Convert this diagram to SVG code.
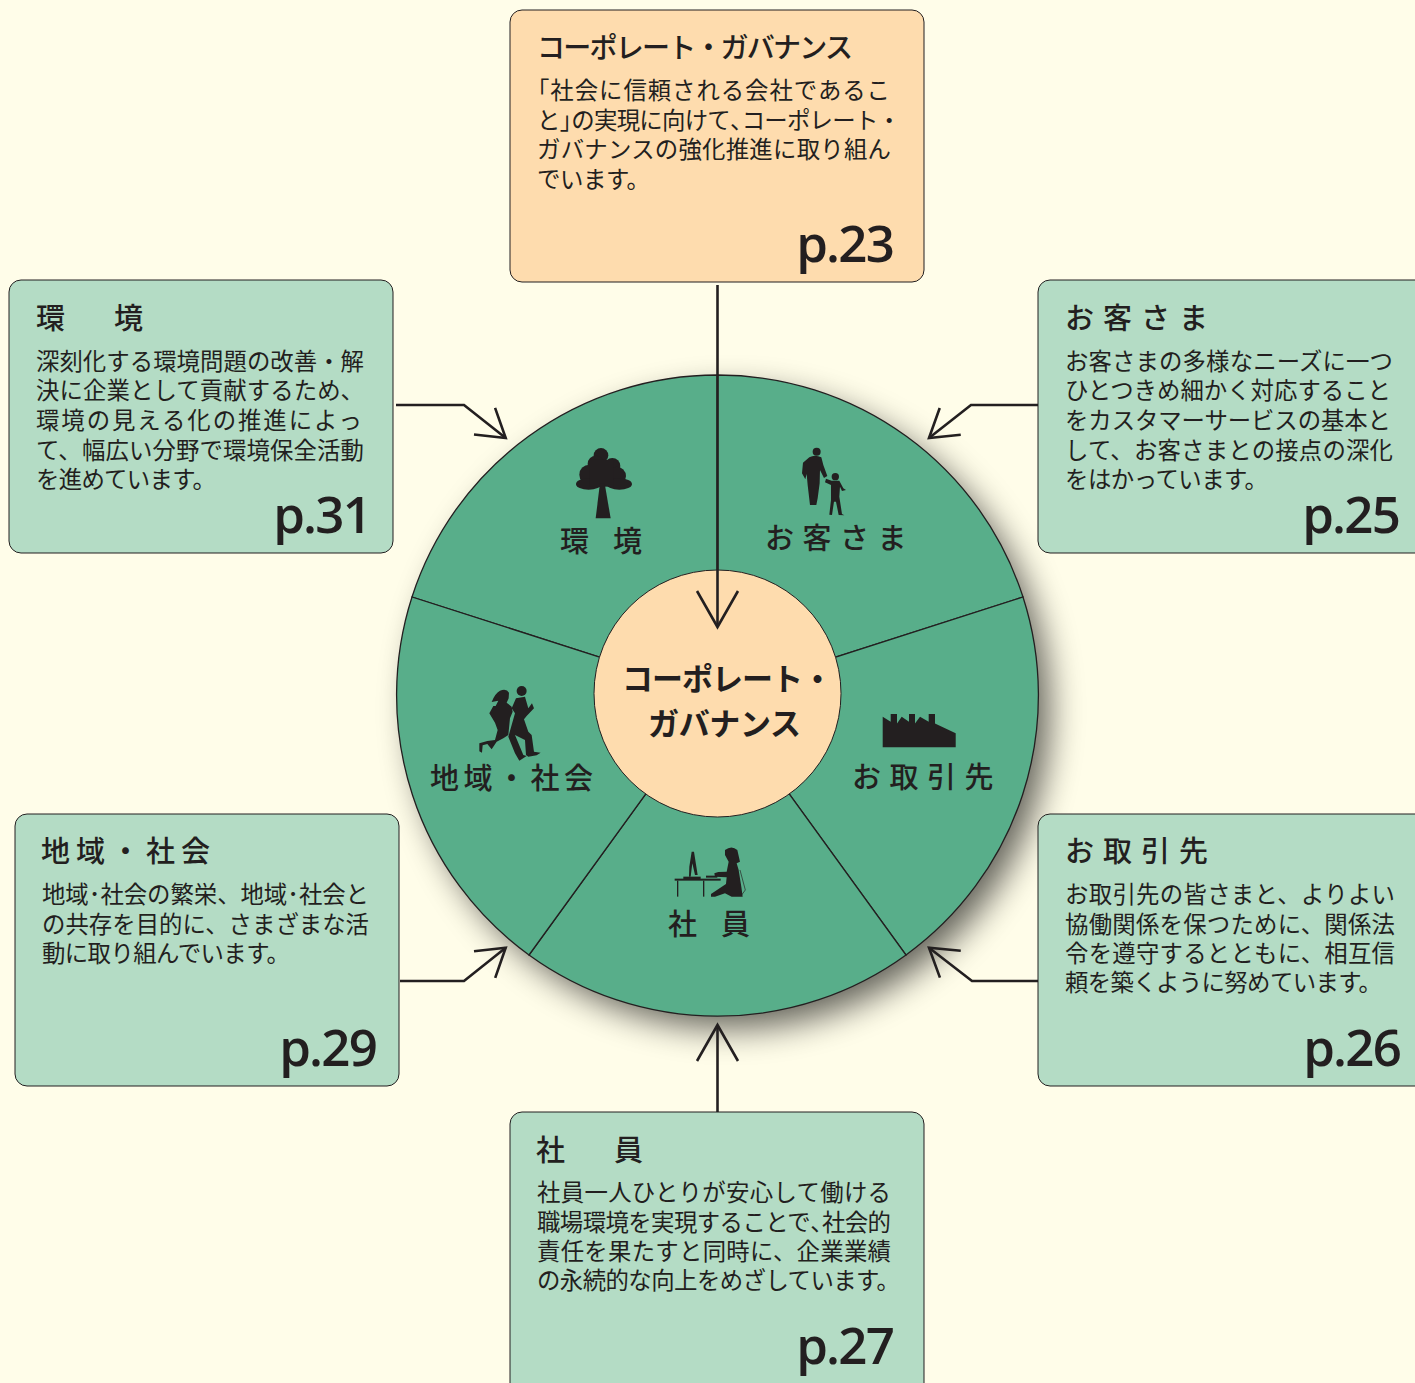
<svg xmlns="http://www.w3.org/2000/svg" width="1415" height="1383" viewBox="0 0 1415 1383">
<style>
text{font-family:"Noto Sans CJK JP","Noto Sans",sans-serif;fill:#231f20}
.box{stroke:#231f20;stroke-width:1}
.g{fill:#b4dcc5}
.t{font-size:29px;font-weight:500;letter-spacing:9px}
.b{font-size:23.400px}
.n{letter-spacing:-11px}
.p{font-family:"Open Sans","Noto Sans",sans-serif;font-size:51px;font-weight:600;text-anchor:end;letter-spacing:-1.800px}
.l{font-size:29px;font-weight:500;letter-spacing:8.500px}
.sec{fill:#58ae8a;stroke:#231f20;stroke-width:1.300}
.ic{fill:#231f20}
.cn{fill:none;stroke:#231f20;stroke-width:2.600}
</style>
<defs>
<filter id="sh" x="-25%" y="-25%" width="150%" height="150%"><feGaussianBlur stdDeviation="17"/></filter>
<marker id="big" markerUnits="userSpaceOnUse" orient="auto" markerWidth="80" markerHeight="80" refX="40" refY="40" viewBox="0 0 80 80"><path d="M4,19.500 L40,40 L4,60.500" fill="none" stroke="#231f20" stroke-width="2.600"/></marker>
<marker id="sm" markerUnits="userSpaceOnUse" orient="auto" markerWidth="80" markerHeight="80" refX="40" refY="40" viewBox="0 0 80 80"><path d="M13,23 L40,40 L13,57" fill="none" stroke="#231f20" stroke-width="2.600"/></marker>
</defs>
<rect width="1415" height="1383" fill="#fffde9"/>
<circle cx="731" cy="710" r="318" fill="#000" opacity=".62" filter="url(#sh)"/>

<g id="sector-env"><path class="sec" d="M412,597 A321,321 0 0 1 717.500,375 L717.500,695 Z"/>
<g class="ic" transform="translate(400 370) scale(.3333)"><circle cx="603" cy="256" r="22"/><circle cx="588" cy="282" r="25"/><circle cx="637" cy="288" r="24"/><circle cx="568" cy="314" r="30"/><circle cx="650" cy="318" r="28"/><ellipse cx="566" cy="342" rx="38" ry="17"/><ellipse cx="658" cy="342" rx="38" ry="17"/><rect x="570" y="270" width="70" height="80"/><path d="M600,340H614L632,445H587Z"/></g>
<text class="l" x="560" y="552" style="letter-spacing:-2.500px">環　境</text></g>

<g id="sector-customer"><path class="sec" d="M717.500,375 A321,321 0 0 1 1023,597 L717.500,695 Z"/>
<g class="ic" transform="translate(720 370) scale(.3333)"><circle cx="290" cy="245" r="12"/><path d="M268,262Q285,252 304,262L310,285L322,318L312,324L300,300L299,340L293,385L289,405L270,405L263,345L260,312L256,328L246,310L249,278Z"/><circle cx="346" cy="320" r="11"/><path d="M335,332L358,332L370,355L378,360L366,363L360,350L358,380L366,432L373,436L356,435L348,395L342,395L336,435L328,434L333,390L333,345L315,337L318,326Z"/></g>
<text class="l" x="765" y="549">お客さま</text></g>

<g id="sector-supplier"><path class="sec" d="M1023,597 A321,321 0 0 1 906,955 L717.500,695 Z"/>
<path class="ic" d="M882.700,747.300V716.700L890.700,721.700V714H897V723.500L901.700,716.700L909,721.700V714H915V723.500L920,716.700L928.700,721.700V714H935V723.500L955.700,733.300V747.300Z"/>
<text class="l" x="852" y="788">お取引先</text></g>

<g id="sector-staff"><path class="sec" d="M906,955 A321,321 0 0 1 529,955 L717.500,695 Z"/>
<g class="ic" transform="translate(660 680) scale(.3333)"><path d="M95,515H102L113,585H105L97,550L92,590H87L88,560Z"/><rect x="70" y="590" width="52" height="7"/><rect x="44" y="596" width="138" height="6"/><rect x="51" y="602" width="4" height="48"/><rect x="129" y="602" width="4" height="48"/><rect x="138" y="587" width="34" height="6"/><path d="M195,510Q215,495 232,510L240,545L230,550L236,570L244,620L248,650L215,650L195,640L165,650L153,650L153,642L198,612L200,592L165,590L163,580L175,576L200,575L206,545L195,525Z"/><path d="M240,570L256,630L245,645" fill="none" stroke="#231f20" stroke-width="2"/></g>
<text class="l" x="668" y="935" style="letter-spacing:-2.500px">社　員</text></g>

<g id="sector-community"><path class="sec" d="M529,955 A321,321 0 0 1 412,597 L717.500,695 Z"/>
<g class="ic" transform="translate(400 680) scale(.3333)"><path d="M275,66Q285,40 300,32Q320,25 327,38L326,55L320,68L335,80L338,95L330,115L325,165L310,175L290,185L275,208L262,192L248,196L246,218L238,214L238,190L262,183L285,180L293,150L285,128L268,100L280,78L287,78L295,62Z"/><circle cx="365" cy="33" r="15"/><path d="M348,55L375,50L385,85L396,70L402,85L380,108L372,118L385,155L395,165L402,215L422,218L410,226L385,230L378,225L375,180L345,165L370,225L380,228L358,242L345,220L325,170L345,100L335,85Z"/></g>
<text class="l" x="430" y="789" style="letter-spacing:4.500px">地域・社会</text></g>

<g id="hub"><circle cx="717.500" cy="693.500" r="123.500" fill="#fedcae" stroke="#231f20" stroke-width="1"/>
<text x="622" y="690" font-size="31" font-weight="700" textLength="211">コーポレート・</text>
<text x="648" y="735" font-size="31" font-weight="700" textLength="153">ガバナンス</text></g>

<g id="connectors">
<path class="cn" d="M396,405H464L505.700,438" marker-end="url(#sm)"/>
<path class="cn" d="M1038,405H971L929,438" marker-end="url(#sm)"/>
<path class="cn" d="M400,981H464L505.700,947.700" marker-end="url(#sm)"/>
<path class="cn" d="M1038,981H972L929,947.700" marker-end="url(#sm)"/>
<path class="cn" d="M717.500,285V627" marker-end="url(#big)"/>
<path class="cn" d="M717.500,1112V1025" marker-end="url(#big)"/>
</g>

<g id="box-governance"><rect class="box" x="510" y="10" width="414" height="272" rx="12" fill="#fedcae"/>
<text x="537" y="58" font-size="28" font-weight="500" textLength="316">コーポレート・ガバナンス</text>
<text class="b" x="526" y="99" textLength="364">「社会に信頼される会社であるこ</text>
<text class="b" x="537" y="129" textLength="364">と<tspan class="n">」</tspan>の実現に向けて<tspan class="n">、</tspan>コーポレート・</text>
<text class="b" x="537" y="158" textLength="354">ガバナンスの強化推進に取り組ん</text>
<text class="b" x="537" y="188" textLength="113">でいます。</text>
<text class="p" x="893" y="262">p.23</text></g>

<g id="box-env"><rect class="box g" x="9" y="280" width="384" height="273" rx="12"/>
<text class="t" x="36" y="329" style="letter-spacing:10px">環　境</text>
<text class="b" x="36" y="370" textLength="328">深刻化する環境問題の改善・解</text>
<text class="b" x="36" y="399" textLength="328">決に企業として貢献するため、</text>
<text class="b" x="36" y="429" textLength="326">環境の見える化の推進によっ</text>
<text class="b" x="36" y="459" textLength="328">て、幅広い分野で環境保全活動</text>
<text class="b" x="36" y="488" textLength="180">を進めています。</text>
<text class="p" x="370" y="533">p.31</text></g>

<g id="box-customer"><rect class="box g" x="1038" y="280" width="400" height="273" rx="12"/>
<text class="t" x="1065" y="329">お客さま</text>
<text class="b" x="1065" y="370" textLength="328">お客さまの多様なニーズに一つ</text>
<text class="b" x="1065" y="399" textLength="326">ひとつきめ細かく対応すること</text>
<text class="b" x="1065" y="429" textLength="326">をカスタマーサービスの基本と</text>
<text class="b" x="1065" y="459" textLength="328">して、お客さまとの接点の深化</text>
<text class="b" x="1065" y="488" textLength="203">をはかっています。</text>
<text class="p" x="1399" y="533">p.25</text></g>

<g id="box-community"><rect class="box g" x="15" y="814" width="384" height="272" rx="12"/>
<text class="t" x="41" y="862" style="letter-spacing:6px">地域・社会</text>
<text class="b" x="42" y="903" textLength="327">地域･社会の繁栄、地域･社会と</text>
<text class="b" x="42" y="933" textLength="327">の共存を目的に、さまざまな活</text>
<text class="b" x="42" y="962" textLength="248">動に取り組んでいます。</text>
<text class="p" x="376" y="1066">p.29</text></g>

<g id="box-supplier"><rect class="box g" x="1038" y="814" width="400" height="272" rx="12"/>
<text class="t" x="1065" y="862">お取引先</text>
<text class="b" x="1065" y="903" textLength="330">お取引先の皆さまと、よりよい</text>
<text class="b" x="1065" y="933" textLength="330">協働関係を保つために、関係法</text>
<text class="b" x="1065" y="962" textLength="330">令を遵守するとともに、相互信</text>
<text class="b" x="1065" y="991" textLength="317">頼を築くように努めています。</text>
<text class="p" x="1400" y="1066">p.26</text></g>

<g id="box-staff"><rect class="box g" x="510" y="1112" width="414" height="290" rx="12"/>
<text class="t" x="536" y="1161" style="letter-spacing:10px">社　員</text>
<text class="b" x="537" y="1201" textLength="354">社員一人ひとりが安心して働ける</text>
<text class="b" x="537" y="1231" textLength="354">職場環境を実現することで<tspan class="n">、</tspan>社会的</text>
<text class="b" x="537" y="1260" textLength="354">責任を果たすと同時に、企業業績</text>
<text class="b" x="537" y="1289" textLength="363">の永続的な向上をめざしています。</text>
<text class="p" x="893" y="1364">p.27</text></g>
</svg>
